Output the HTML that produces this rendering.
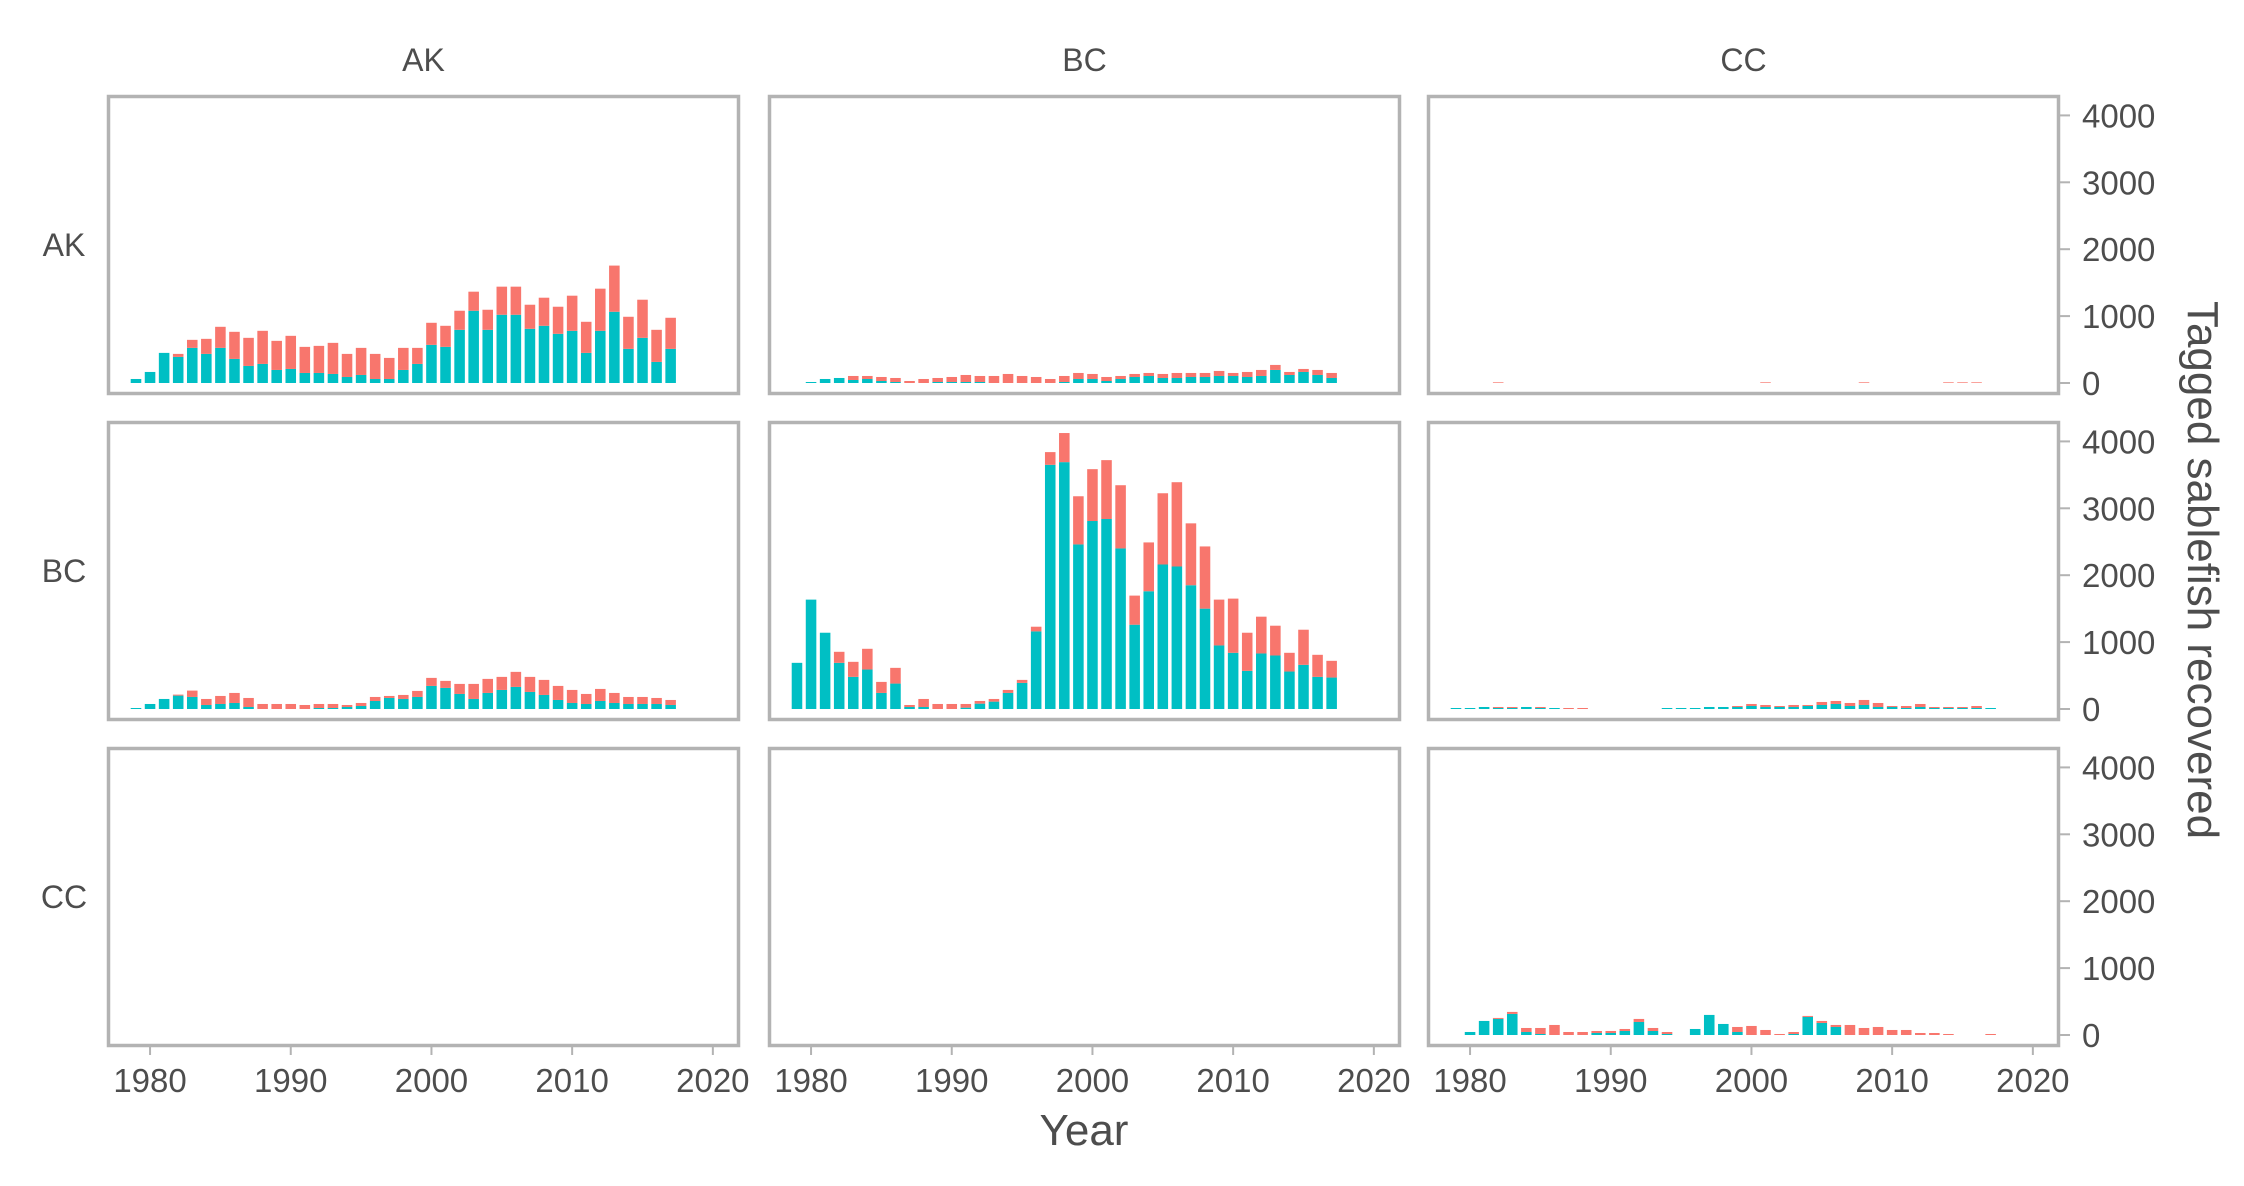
<!DOCTYPE html>
<html><head><meta charset="utf-8"><style>
html,body{margin:0;padding:0;background:#fff;}
svg text{font-family:"Liberation Sans","DejaVu Sans",sans-serif;fill:#4d4d4d;}
</style></head><body>
<svg id="chart" width="2244" height="1181" viewBox="0 0 2244 1181" xmlns="http://www.w3.org/2000/svg"></svg>
<script>
const years = [1979,1980,1981,1982,1983,1984,1985,1986,1987,1988,1989,1990,1991,1992,1993,1994,1995,1996,1997,1998,1999,2000,2001,2002,2003,2004,2005,2006,2007,2008,2009,2010,2011,2012,2013,2014,2015,2016,2017];
const regions = ["AK","BC","CC"];
const xTicks = [1980,1990,2000,2010,2020];
const yTicks = [0,1000,2000,3000,4000];
const tealAK_AK = [60,165,450,390,525,435,525,360,255,285,195,210,150,150,135,90,120,60,60,195,285,570,540,795,1080,795,1020,1020,810,855,735,780,450,780,1065,510,675,315,510];
const totalAK_AK = [60,165,450,435,645,660,840,765,675,780,630,705,540,555,600,435,525,435,375,525,525,900,855,1080,1365,1095,1440,1440,1170,1275,1140,1305,915,1410,1755,990,1245,795,975];
const tealAK_BC = [0,15,60,75,45,60,30,15,0,0,15,15,15,15,0,0,0,0,0,15,60,60,30,60,90,105,75,75,90,90,105,105,90,105,195,120,165,120,75];
const totalAK_BC = [0,15,60,75,105,105,90,75,30,60,75,90,120,105,105,135,105,90,60,105,150,135,90,105,135,150,135,150,150,150,180,150,165,195,270,165,210,195,150];
const tealAK_CC = [0,0,0,0,0,0,0,0,0,0,0,0,0,0,0,0,0,0,0,0,0,0,0,0,0,0,0,0,0,0,0,0,0,0,0,0,0,0,0];
const totalAK_CC = [0,0,0,10,0,0,0,0,0,0,0,0,0,0,0,0,0,0,0,0,0,0,10,0,0,0,0,0,0,10,0,0,0,0,0,10,10,10,0];
const tealBC_AK = [15,75,150,200,180,60,75,90,30,0,0,0,0,15,15,30,45,120,165,150,180,345,315,225,150,240,285,330,255,210,135,90,75,120,90,75,75,75,60];
const totalBC_AK = [15,75,150,215,275,150,195,240,165,75,75,75,60,75,75,60,90,180,195,210,270,465,420,375,375,450,480,555,480,435,345,285,225,300,240,180,180,165,135];
const tealBC_BC = [690,1635,1140,690,480,590,240,380,30,30,0,0,20,80,110,240,390,1160,3650,3690,2460,2810,2840,2400,1260,1760,2160,2130,1850,1500,950,840,570,830,800,560,660,480,470];
const totalBC_BC = [690,1635,1140,855,705,900,405,615,60,150,75,75,75,120,150,285,435,1230,3840,4125,3180,3585,3720,3345,1695,2490,3225,3390,2775,2430,1635,1650,1140,1380,1245,840,1185,810,720];
const tealBC_CC = [15,15,30,15,15,30,15,15,0,0,0,0,0,0,0,15,15,15,30,30,30,45,30,30,30,45,60,75,45,60,30,30,15,30,15,15,15,15,15];
const totalBC_CC = [15,15,30,30,30,30,30,15,15,15,0,0,0,0,0,15,15,15,30,30,45,75,60,45,60,60,105,120,90,135,90,45,45,75,30,30,30,45,15];
const tealCC_AK = [];
const totalCC_AK = [];
const tealCC_BC = [];
const totalCC_BC = [];
const tealCC_CC = [0,45,210,240,315,45,15,0,0,0,30,30,60,195,60,15,0,90,300,165,45,0,0,0,15,270,180,120,0,0,0,0,0,0,0,0,0,0,0];
const totalCC_CC = [0,45,210,255,345,105,105,150,45,45,60,60,90,240,105,45,0,90,300,165,120,135,75,15,45,285,210,150,150,105,120,75,75,30,30,15,0,0,15];

const panelData = {
  AK_AK:[tealAK_AK,totalAK_AK], AK_BC:[tealAK_BC,totalAK_BC], AK_CC:[tealAK_CC,totalAK_CC],
  BC_AK:[tealBC_AK,totalBC_AK], BC_BC:[tealBC_BC,totalBC_BC], BC_CC:[tealBC_CC,totalBC_CC],
  CC_AK:[tealCC_AK,totalCC_AK], CC_BC:[tealCC_BC,totalCC_BC], CC_CC:[tealCC_CC,totalCC_CC]
};

const NS = "http://www.w3.org/2000/svg";
const svg = document.getElementById('chart');
function mk(tag, attrs, parent){
  const e = document.createElementNS(NS, tag);
  for (const k in attrs) e.setAttribute(k, attrs[k]);
  (parent||svg).appendChild(e);
  return e;
}
const colL = [107,768,1427], panelW = 633;
const rowT = [95,421,747], panelH = 300;
const xMin = 1976.94, xMax = 2021.93;
const pxPer = 66.9/1000;
function xScale(c, v){ return colL[c] + (v - xMin) / (xMax - xMin) * panelW; }
function yScale(r, v){ return rowT[r] + 288 - v * pxPer; }
const barW = 0.75 * panelW / (xMax - xMin);

regions.forEach((rr, r) => {
  regions.forEach((cc, c) => {
    const g = mk('g', {});
    
    
    const d = panelData[rr + '_' + cc];
    const teal = d[0], total = d[1];
    for (let i = 0; i < total.length; i++) {
      const x = xScale(c, years[i]) - barW/2;
      const t = teal[i] || 0, tot = total[i] || 0;
      if (t > 0) {
        const b = mk('rect', {x:x, y:yScale(r,t), width:barW, height:yScale(r,0)-yScale(r,t), fill:'#00BFC4'}, g);
        
        
      }
      if (tot > t) {
        const b = mk('rect', {x:x, y:yScale(r,tot), width:barW, height:yScale(r,t)-yScale(r,tot), fill:'#F8766D'}, g);
        
        
      }
    }
    const br = mk('rect', {x:colL[c]+1.5, y:rowT[r]+1.5, width:panelW-3, height:panelH-3, fill:'none', stroke:'#b3b3b3', 'stroke-width':3.5}, g);
    
    
  });
});

regions.forEach((cc, c) => {
  const t = mk('text', {x:colL[c]+panelW/2, y:71, 'font-size':32, 'text-anchor':'middle'});
  t.textContent = cc;
  
  
});
regions.forEach((rr, r) => {
  const t = mk('text', {x:64, y:rowT[r]+panelH/2+11, 'font-size':32, 'text-anchor':'middle'});
  t.textContent = rr;
  
  
});
regions.forEach((cc, c) => {
  xTicks.forEach(v => {
    const x = xScale(c, v);
    mk('line', {x1:x, x2:x, y1:rowT[2]+panelH, y2:rowT[2]+panelH+8, stroke:'#b3b3b3', 'stroke-width':2});
    const t = mk('text', {x:x, y:1092, 'font-size':33, 'text-anchor':'middle'});
    t.textContent = v;
    
    
  });
});
regions.forEach((rr, r) => {
  yTicks.forEach(v => {
    const y = yScale(r, v);
    mk('line', {x1:2060, x2:2070, y1:y, y2:y, stroke:'#b3b3b3', 'stroke-width':2});
    const t = mk('text', {x:2082, y:y+12, 'font-size':33});
    t.textContent = v;
    
    
  });
});
const xt = mk('text', {x:1084, y:1145, 'font-size':44, 'text-anchor':'middle'});
xt.textContent = 'Year';


const yt = mk('text', {x:0, y:0, 'font-size':44, 'text-anchor':'middle', transform:'translate(2188,570) rotate(90)'});
yt.textContent = 'Tagged sablefish recovered';


</script>
</body></html>
